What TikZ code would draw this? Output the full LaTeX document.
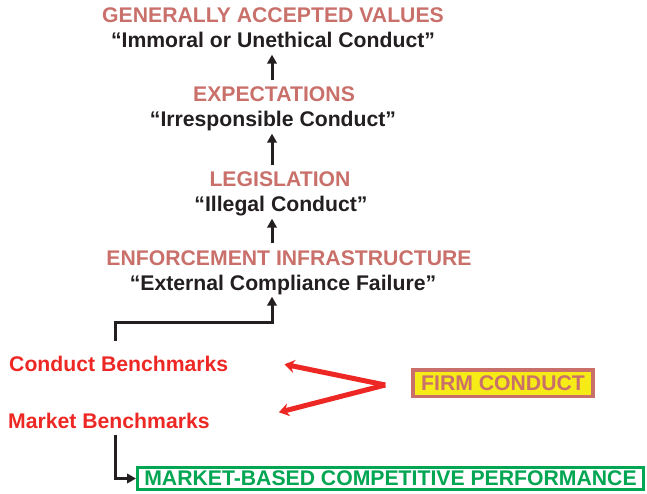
\documentclass[tikz,border=0pt]{standalone}
\usepackage{fontspec}
\setmainfont{Liberation Sans}
\usetikzlibrary{arrows.meta}
\definecolor{rose}{RGB}{201,112,107}
\definecolor{ink}{RGB}{35,31,32}
\definecolor{benchred}{RGB}{237,40,36}
\definecolor{mktgreen}{RGB}{0,166,81}
\definecolor{firmyellow}{RGB}{246,235,22}
\begin{document}
\begin{tikzpicture}[x=1pt,y=-1pt,
  every node/.style={font=\bfseries\fontsize{21.2}{25}\selectfont,
    inner xsep=3pt, inner ysep=6.5pt, text depth=0pt},
  head/.style={text=rose, anchor=base},
  quote/.style={text=ink, anchor=base},
  bench/.style={text=benchred, anchor=base west},
  firmbox/.style={draw=rose, line width=3.5pt, fill=firmyellow, text=rose,
    minimum width=180pt, minimum height=26.5pt, inner ysep=0pt},
  mbcpbox/.style={draw=mktgreen, line width=3pt, fill=white, text=mktgreen,
    minimum width=506pt, minimum height=22pt, inner ysep=0pt},
  uparrow/.style={draw=ink, line width=3pt, -{Triangle[length=9pt,width=9.5pt]}},
  redarrow/.style={draw=benchred, line width=5pt, -{Stealth[length=10pt,width=13pt]}}]
\useasboundingbox (0,0) rectangle (647,494);
% levels of the ladder
\node[head] (values) at (273,23) {GENERALLY ACCEPTED VALUES};
\node[quote] (immoral) at (273,48) {“Immoral or Unethical Conduct”};
\node[head] (expect) at (274,102) {EXPECTATIONS};
\node[quote] (irresp) at (273,127) {“Irresponsible Conduct”};
\node[head] (legis) at (280,187) {LEGISLATION};
\node[quote] (illegal) at (281,212) {“Illegal Conduct”};
\node[head] (enforce) at (289,265) {ENFORCEMENT INFRASTRUCTURE};
\node[quote] (external) at (283,290) {“External Compliance Failure”};
% benchmarks and boxes
\node[bench] (condbench) at (6,371) {Conduct Benchmarks};
\node[bench] (mktbench) at (5,428) {Market Benchmarks};
\node[firmbox] (firm) at (503,383) {FIRM CONDUCT};
\node[mbcpbox] (mbcp) at (390.5,478.5) {MARKET-BASED COMPETITIVE PERFORMANCE};
\coordinate (spine) at (272,0);
\coordinate (bend) at (115,322);
\coordinate (vtx) at ([xshift=-26pt,yshift=-2pt]firm.west);
\draw[uparrow] (expect.north -| spine) -- (immoral.south -| spine);
\draw[uparrow] (legis.north -| spine) -- (irresp.south -| spine);
\draw[uparrow] (enforce.north -| spine) -- (illegal.south -| spine);
\draw[uparrow, shorten <=8pt] (condbench.north -| bend) -- (bend) -| (external.south -| spine);
\draw[uparrow] (mktbench.south -| bend) |- (mbcp.west);
\draw[redarrow] (vtx) -- ([shift={(53,1)}]condbench.east);
\draw[redarrow] (vtx) -- ([shift={(66,-8)}]mktbench.east);
\end{tikzpicture}
\end{document}
